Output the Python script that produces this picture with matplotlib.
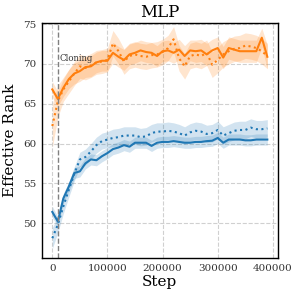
import matplotlib
matplotlib.use("Agg")
import matplotlib.pyplot as plt
import numpy as np

steps = list(range(0, 400000, 10000))

orange_solid = [66.8, 65.6, 67.0, 68.1, 68.8, 69.1, 69.6, 69.7, 70.2, 70.4,
                70.4, 71.4, 70.9, 70.5, 71.2, 71.4, 71.7, 71.5, 71.4, 71.0,
                71.6, 71.7, 71.4, 71.8, 71.0, 71.7, 71.6, 71.7, 71.2, 71.7,
                72.0, 70.8, 72.0, 71.8, 71.6, 71.6, 71.6, 71.6, 73.3, 70.9]
orange_solid_sd = [1.0, 0.9, 1.1, 1.2, 1.3, 1.3, 1.3, 1.3, 1.3, 1.3,
                   1.3, 1.3, 1.3, 1.3, 1.3, 1.3, 1.3, 1.3, 1.3, 1.3,
                   1.3, 1.3, 1.3, 1.3, 1.3, 1.3, 1.4, 1.4, 1.4, 1.4,
                   1.4, 1.4, 1.4, 1.4, 1.4, 1.4, 1.4, 1.4, 1.2, 1.5]

orange_dot = [62.2, 65.3, 66.8, 67.8, 68.8, 69.7, 69.5, 69.8, 70.2, 70.3,
              70.5, 72.6, 71.6, 70.3, 71.0, 71.2, 71.0, 70.9, 71.1, 71.2,
              71.5, 72.0, 73.1, 70.7, 69.7, 71.0, 71.2, 71.0, 71.4, 69.9,
              70.5, 71.2, 71.6, 71.9, 72.0, 72.3, 72.2, 72.0, 71.6, 71.0]
orange_dot_sd = [2.7, 2.0, 1.5, 1.5, 1.5, 1.5, 1.5, 1.5, 1.5, 1.5,
                 1.5, 1.6, 1.6, 1.6, 1.6, 1.6, 1.6, 1.6, 1.6, 1.6,
                 1.6, 1.6, 1.6, 1.6, 1.6, 1.6, 1.6, 1.6, 1.6, 1.6,
                 1.6, 1.6, 1.6, 1.6, 1.6, 1.6, 1.6, 1.6, 1.6, 1.6]

blue_solid = [51.4, 50.2, 53.1, 54.6, 56.3, 56.5, 57.5, 58.0, 57.9, 58.4,
              58.8, 59.3, 59.5, 59.8, 59.6, 60.1, 60.1, 60.1, 59.7, 60.1,
              60.2, 60.2, 60.3, 60.2, 60.1, 60.1, 60.2, 60.2, 60.3, 60.35,
              60.7, 60.1, 60.5, 60.5, 60.5, 60.4, 60.4, 60.5, 60.5, 60.5]
blue_solid_sd = [0.7, 0.6, 0.6, 0.6, 0.7, 0.7, 0.7, 0.7, 0.7, 0.7,
                 0.7, 0.7, 0.7, 0.7, 0.7, 0.7, 0.7, 0.7, 0.7, 0.7,
                 0.7, 0.7, 0.7, 0.7, 0.7, 0.7, 0.7, 0.7, 0.7, 0.7,
                 0.7, 0.7, 0.7, 0.7, 0.7, 0.7, 0.7, 0.7, 0.7, 0.7]

blue_dot = [48.1, 49.8, 52.1, 54.2, 56.2, 58.0, 58.3, 59.0, 59.8, 60.3,
            60.5, 60.7, 60.8, 61.0, 61.0, 61.0, 60.8, 60.9, 61.3, 61.5,
            61.5, 61.6, 61.5, 61.3, 61.0, 61.4, 61.6, 61.5, 61.2, 61.3,
            61.7, 61.0, 61.3, 61.6, 61.7, 61.7, 62.0, 61.8, 61.8, 61.9]
blue_dot_sd = [1.3, 1.0, 0.9, 0.9, 0.9, 0.9, 1.0, 1.0, 1.0, 1.0,
               1.0, 1.1, 1.1, 1.1, 1.1, 1.1, 1.1, 1.1, 1.1, 1.1,
               1.1, 1.1, 1.1, 1.1, 1.1, 1.1, 1.1, 1.1, 1.1, 1.1,
               1.1, 1.1, 1.1, 1.1, 1.1, 1.1, 1.1, 1.1, 1.1, 1.1]

clone_step = 10000

plt.rcParams['font.family'] = ['DejaVu Serif']

fig = plt.figure(figsize=(2.99, 2.97), dpi=100)
ax = fig.add_axes([0.139, 0.131, 0.791, 0.793])

x = np.array(steps)
series = [
    (orange_solid, orange_solid_sd, '#ff7f0e', '-'),
    (orange_dot, orange_dot_sd, '#ff7f0e', ':'),
    (blue_solid, blue_solid_sd, '#1f77b4', '-'),
    (blue_dot, blue_dot_sd, '#1f77b4', ':'),
]
for m, s, c, ls in series:
    m = np.array(m); s = np.array(s)
    ax.fill_between(x, m - s, m + s, color=c, alpha=0.2, linewidth=0)
    ax.plot(x, m, color=c, linestyle=ls, linewidth=1.5)

ax.axvline(clone_step, color='gray', linestyle='--', linewidth=1)
ax.text(12500, 70.7, 'Cloning', fontsize=6.2, va='center', ha='left', color='#333333')

ax.set_xlim(-19500, 409500)
ax.set_ylim(45.6, 75.2)
ax.set_xticks([0, 100000, 200000, 300000, 400000])
ax.set_yticks([50, 55, 60, 65, 70, 75])
ax.tick_params(labelsize=7.5, length=0, pad=4, colors='#333333')
ax.grid(True, linestyle='--', color='#d0d0d0', linewidth=0.8)
ax.set_axisbelow(True)
for sp in ax.spines.values():
    sp.set_color('black')
    sp.set_linewidth(1.0)
ax.set_xlabel('Step', fontsize=11, labelpad=2)
ax.set_ylabel('Effective Rank', fontsize=11, labelpad=4)
ax.set_title('MLP', fontsize=12, pad=4)

fig.savefig('out.png', dpi=100)
